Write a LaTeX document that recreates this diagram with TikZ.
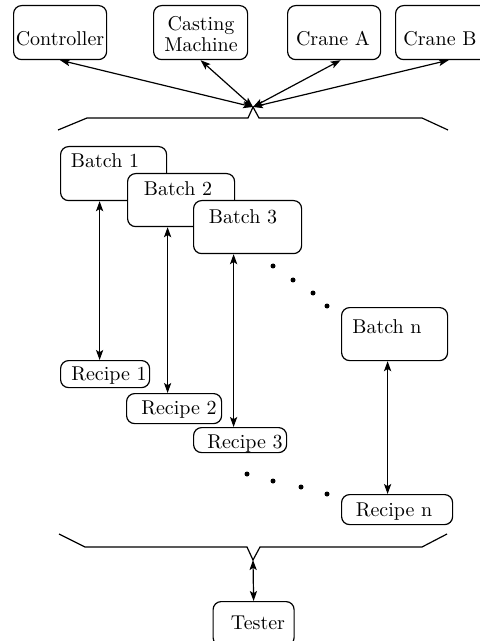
\documentclass[tikz,border=0pt]{standalone}
\usetikzlibrary{arrows.meta}
\begin{document}
\begin{tikzpicture}[x=0.5pt, y=-0.5pt,
  line width=0.6pt,
  box/.style={draw, rounded corners=4pt, fill=white, inner sep=0pt, anchor=north west},
  lbl/.style={inner sep=0pt, anchor=center, font=\normalsize},
  bi/.style={{Stealth[length=5pt,width=3.6pt,inset=1.1pt]}-{Stealth[length=5pt,width=3.6pt,inset=1.1pt]}},
  dot/.style={fill, circle, inner sep=0pt, minimum size=2.5pt}]
\useasboundingbox (0,0) rectangle (480,641);
\clip (0,0) rectangle (480,641);

% top row of units
\node[box, minimum width=46.5pt, minimum height=27pt] (ctrl) at (13,5) {};
\node[box, minimum width=47pt, minimum height=27pt] (cast) at (153,5) {};
\node[box, minimum width=46.5pt, minimum height=27pt] (craneA) at (287,5) {};
\node[box, minimum width=47pt, minimum height=27pt] (craneB) at (395,5) {};
\node[lbl] (ctrlT) at (60,39) {Controller};
\node[lbl, align=center] (castT) at (201,34) {Casting\\[-1.5pt]Machine};
\node[lbl] (craneAT) at (333,39) {Crane A};
\node[lbl] (craneBT) at (440,39) {Crane B};

% upper bus
\coordinate (hub) at (253,107);
\draw (58,130) -- (87,118) -- (248,118) -- (hub) -- (259,118) -- (422,118) -- (448,130);
\draw[bi] (hub) -- (ctrl.south);
\draw[bi] (hub) -- (cast.south);
\draw[bi] (hub) -- ([xshift=3.25pt]craneA.south);
\draw[bi] (hub) -- ([xshift=3pt]craneB.south);

% batches
\node[box, minimum width=53pt, minimum height=27pt] (b1) at (60,146) {};
\node[lbl] (b1T) at (105,161) {Batch 1};
\node[box, minimum width=53.5pt, minimum height=26.5pt] (b2) at (127,173) {};
\node[lbl] (b2T) at (178,189) {Batch 2};
\node[box, minimum width=54pt, minimum height=26.5pt] (b3) at (193,200) {};
\node[lbl] (b3T) at (243,217) {Batch 3};
\node[box, minimum width=53pt, minimum height=26.5pt] (bn) at (341,307) {};
\node[lbl] (bnT) at (387,327) {Batch n};

% recipes
\node[box, minimum width=44.5pt, minimum height=13.5pt] (r1) at (60,360) {};
\node[lbl] (r1T) at (109,376) {Recipe 1};
\node[box, minimum width=47.5pt, minimum height=15pt] (r2) at (126,393) {};
\node[lbl] (r2T) at (179,410) {Recipe 2};
\node[box, minimum width=46.5pt, minimum height=12.5pt] (r3) at (193,427) {};
\node[lbl] (r3T) at (245,444) {Recipe 3};
\node[box, minimum width=55.5pt, minimum height=15pt] (rn) at (341,494) {};
\node[lbl] (rnT) at (394,512) {Recipe n};

% batch <-> recipe links
\draw[bi] ([xshift=-7pt]b1.south) -- ([xshift=-7pt]b1.south |- r1.north);
\draw[bi] ([xshift=-6.75pt]b2.south) -- ([xshift=-6.75pt]b2.south |- r2.north);
\draw[bi] ([xshift=-7pt]b3.south) -- ([xshift=-7pt]b3.south |- r3.north);
\draw[bi] ([xshift=-3.5pt]bn.south) -- ([xshift=-3.5pt]bn.south |- rn.north);

% ellipses
\node[dot] (d1) at (273,266) {};
\node[dot] (d2) at (293,280) {};
\node[dot] (d3) at (313,293) {};
\node[dot] (d4) at (327,306) {};
\node[dot] (e1) at (247,474) {};
\node[dot] (e2) at (273,481) {};
\node[dot] (e3) at (301,487) {};
\node[dot] (e4) at (327,494) {};

% lower bus and tester
\coordinate (hub2) at (253,560);
\draw (59,534) -- (85,547) -- (247,547) -- (hub2) -- (260,547) -- (422,547) -- (447,534);
\node[box, minimum width=40.5pt, minimum height=22pt] (tester) at (212.5,601) {};
\node[lbl] (testerT) at (258,623) {Tester};
\draw[bi] (hub2) -- (tester.north);
\end{tikzpicture}
\end{document}
